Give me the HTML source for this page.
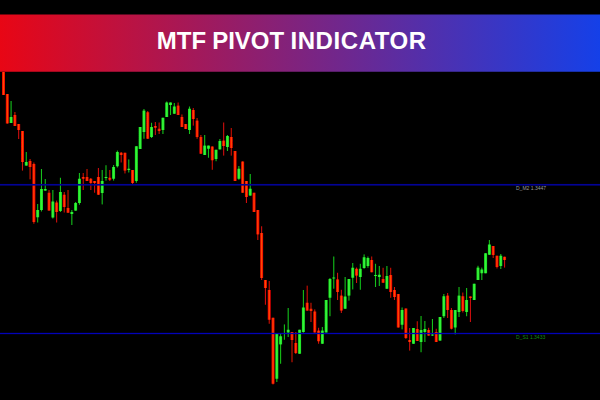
<!DOCTYPE html>
<html lang="en">
<head>
<meta charset="utf-8">
<title>MTF Pivot Indicator</title>
<style>
html,body{margin:0;padding:0;background:#000;}
body{width:600px;height:400px;position:relative;overflow:hidden;font-family:"Liberation Sans",sans-serif;}
.hdr{position:absolute;left:0;top:14.5px;width:600px;height:57.25px;background:linear-gradient(90deg,#e80615 0%,#1540e8 100%);}
.ttl{position:absolute;left:0;top:27.4px;width:600px;height:30px;color:#fff;font-weight:700;font-size:24px;white-space:nowrap;}
.ttl span{position:absolute;top:0;}
.lbl{position:absolute;left:516px;font-size:5px;line-height:6px;white-space:nowrap;letter-spacing:0;}
</style>
</head>
<body>
<svg width="600" height="400" viewBox="0 0 600 400" style="position:absolute;left:0;top:0">
<defs>
<linearGradient id="gr" x1="0" y1="0" x2="1" y2="0"><stop offset="0" stop-color="#e20000"/><stop offset="0.28" stop-color="#fb1c00"/><stop offset="0.45" stop-color="#ff4c02"/><stop offset="0.55" stop-color="#ff4c02"/><stop offset="0.72" stop-color="#fb1c00"/><stop offset="1" stop-color="#e20000"/></linearGradient>
<linearGradient id="gg" x1="0" y1="0" x2="1" y2="0"><stop offset="0" stop-color="#10d816"/><stop offset="0.38" stop-color="#34f23a"/><stop offset="0.62" stop-color="#34f23a"/><stop offset="1" stop-color="#10d816"/></linearGradient>
<linearGradient id="hg" x1="0" y1="0" x2="1" y2="0"><stop offset="0" stop-color="#e80615"/><stop offset="1" stop-color="#1540e8"/></linearGradient>
<filter id="b" x="-5%" y="-5%" width="110%" height="110%"><feGaussianBlur stdDeviation="0.4"/></filter></defs>
<g filter="url(#b)">
<g>
<rect x="2.95" y="72.00" width="1.1" height="23.00" fill="#d01208"/>
<rect x="6.75" y="94.00" width="1.1" height="29.50" fill="#d01208"/>
<rect x="10.54" y="101.00" width="1.1" height="22.00" fill="#14c01a"/>
<rect x="14.34" y="112.00" width="1.1" height="14.00" fill="#d01208"/>
<rect x="18.13" y="124.00" width="1.1" height="15.00" fill="#d01208"/>
<rect x="21.93" y="131.00" width="1.1" height="39.60" fill="#d01208"/>
<rect x="25.73" y="152.00" width="1.1" height="13.60" fill="#14c01a"/>
<rect x="29.52" y="159.00" width="1.1" height="20.40" fill="#d01208"/>
<rect x="33.32" y="162.50" width="1.1" height="61.25" fill="#d01208"/>
<rect x="37.11" y="204.00" width="1.1" height="18.50" fill="#14c01a"/>
<rect x="40.91" y="169.00" width="1.1" height="42.50" fill="#14c01a"/>
<rect x="44.71" y="179.00" width="1.1" height="11.60" fill="#14c01a"/>
<rect x="48.50" y="190.00" width="1.1" height="20.60" fill="#d01208"/>
<rect x="52.30" y="190.00" width="1.1" height="28.50" fill="#14c01a"/>
<rect x="56.09" y="200.60" width="1.1" height="21.90" fill="#d01208"/>
<rect x="59.89" y="177.75" width="1.1" height="34.25" fill="#14c01a"/>
<rect x="63.69" y="192.00" width="1.1" height="20.50" fill="#d01208"/>
<rect x="67.48" y="190.00" width="1.1" height="22.75" fill="#d01208"/>
<rect x="71.28" y="210.00" width="1.1" height="15.00" fill="#14c01a"/>
<rect x="75.07" y="202.00" width="1.1" height="8.60" fill="#14c01a"/>
<rect x="78.87" y="173.00" width="1.1" height="31.75" fill="#14c01a"/>
<rect x="82.67" y="173.00" width="1.1" height="17.00" fill="#d01208"/>
<rect x="86.46" y="169.00" width="1.1" height="12.00" fill="#d01208"/>
<rect x="90.26" y="178.00" width="1.1" height="12.00" fill="#d01208"/>
<rect x="94.05" y="181.00" width="1.1" height="11.75" fill="#d01208"/>
<rect x="97.85" y="168.00" width="1.1" height="26.75" fill="#d01208"/>
<rect x="101.65" y="170.00" width="1.1" height="34.40" fill="#14c01a"/>
<rect x="105.44" y="165.25" width="1.1" height="15.35" fill="#14c01a"/>
<rect x="109.24" y="170.00" width="1.1" height="11.00" fill="#d01208"/>
<rect x="113.03" y="165.00" width="1.1" height="15.60" fill="#14c01a"/>
<rect x="116.83" y="150.60" width="1.1" height="16.90" fill="#14c01a"/>
<rect x="120.63" y="152.00" width="1.1" height="10.50" fill="#d01208"/>
<rect x="124.42" y="152.75" width="1.1" height="20.75" fill="#d01208"/>
<rect x="128.22" y="159.40" width="1.1" height="13.10" fill="#14c01a"/>
<rect x="132.01" y="170.00" width="1.1" height="14.40" fill="#d01208"/>
<rect x="135.81" y="146.25" width="1.1" height="36.50" fill="#14c01a"/>
<rect x="139.61" y="127.00" width="1.1" height="22.00" fill="#14c01a"/>
<rect x="143.40" y="109.00" width="1.1" height="29.75" fill="#14c01a"/>
<rect x="147.20" y="111.00" width="1.1" height="27.75" fill="#d01208"/>
<rect x="150.99" y="122.75" width="1.1" height="15.25" fill="#14c01a"/>
<rect x="154.79" y="122.00" width="1.1" height="13.00" fill="#d01208"/>
<rect x="158.59" y="122.50" width="1.1" height="11.50" fill="#d01208"/>
<rect x="162.38" y="117.75" width="1.1" height="16.25" fill="#14c01a"/>
<rect x="166.18" y="101.50" width="1.1" height="15.50" fill="#14c01a"/>
<rect x="169.97" y="102.50" width="1.1" height="12.50" fill="#14c01a"/>
<rect x="173.77" y="103.00" width="1.1" height="10.75" fill="#14c01a"/>
<rect x="177.57" y="102.50" width="1.1" height="12.50" fill="#d01208"/>
<rect x="181.36" y="114.40" width="1.1" height="12.60" fill="#d01208"/>
<rect x="185.16" y="124.00" width="1.1" height="5.00" fill="#d01208"/>
<rect x="188.95" y="106.50" width="1.1" height="27.50" fill="#14c01a"/>
<rect x="192.75" y="108.00" width="1.1" height="17.60" fill="#d01208"/>
<rect x="196.55" y="118.00" width="1.1" height="20.75" fill="#d01208"/>
<rect x="200.34" y="135.00" width="1.1" height="18.75" fill="#d01208"/>
<rect x="204.14" y="135.00" width="1.1" height="20.00" fill="#14c01a"/>
<rect x="207.93" y="145.60" width="1.1" height="12.15" fill="#14c01a"/>
<rect x="211.73" y="146.50" width="1.1" height="23.25" fill="#d01208"/>
<rect x="215.53" y="149.75" width="1.1" height="11.50" fill="#14c01a"/>
<rect x="219.32" y="139.00" width="1.1" height="10.40" fill="#14c01a"/>
<rect x="223.12" y="122.50" width="1.1" height="33.10" fill="#d01208"/>
<rect x="226.91" y="135.00" width="1.1" height="16.00" fill="#14c01a"/>
<rect x="230.71" y="128.00" width="1.1" height="27.60" fill="#d01208"/>
<rect x="234.51" y="151.00" width="1.1" height="30.00" fill="#d01208"/>
<rect x="238.30" y="166.00" width="1.1" height="13.75" fill="#14c01a"/>
<rect x="242.10" y="161.50" width="1.1" height="31.25" fill="#d01208"/>
<rect x="245.89" y="181.00" width="1.1" height="22.00" fill="#d01208"/>
<rect x="249.69" y="174.00" width="1.1" height="21.60" fill="#14c01a"/>
<rect x="253.49" y="192.75" width="1.1" height="19.25" fill="#d01208"/>
<rect x="257.28" y="210.00" width="1.1" height="30.00" fill="#d01208"/>
<rect x="261.08" y="226.25" width="1.1" height="53.75" fill="#d01208"/>
<rect x="264.87" y="280.00" width="1.1" height="24.75" fill="#d01208"/>
<rect x="268.67" y="281.00" width="1.1" height="42.75" fill="#d01208"/>
<rect x="272.47" y="317.75" width="1.1" height="66.75" fill="#d01208"/>
<rect x="276.26" y="333.75" width="1.1" height="48.25" fill="#14c01a"/>
<rect x="280.06" y="333.75" width="1.1" height="30.00" fill="#14c01a"/>
<rect x="283.85" y="324.40" width="1.1" height="15.35" fill="#14c01a"/>
<rect x="287.65" y="308.00" width="1.1" height="29.00" fill="#14c01a"/>
<rect x="291.45" y="332.00" width="1.1" height="30.25" fill="#d01208"/>
<rect x="295.24" y="332.00" width="1.1" height="22.00" fill="#d01208"/>
<rect x="299.04" y="329.75" width="1.1" height="24.00" fill="#14c01a"/>
<rect x="302.83" y="290.00" width="1.1" height="42.75" fill="#14c01a"/>
<rect x="306.63" y="285.60" width="1.1" height="25.00" fill="#d01208"/>
<rect x="310.43" y="302.75" width="1.1" height="19.25" fill="#d01208"/>
<rect x="314.22" y="309.40" width="1.1" height="23.10" fill="#d01208"/>
<rect x="318.02" y="327.75" width="1.1" height="16.00" fill="#d01208"/>
<rect x="321.81" y="327.00" width="1.1" height="16.75" fill="#14c01a"/>
<rect x="325.61" y="300.00" width="1.1" height="32.50" fill="#14c01a"/>
<rect x="329.41" y="278.00" width="1.1" height="38.25" fill="#14c01a"/>
<rect x="333.20" y="256.50" width="1.1" height="32.25" fill="#14c01a"/>
<rect x="337.00" y="272.75" width="1.1" height="27.25" fill="#d01208"/>
<rect x="340.79" y="289.75" width="1.1" height="23.25" fill="#d01208"/>
<rect x="344.59" y="277.00" width="1.1" height="31.75" fill="#14c01a"/>
<rect x="348.39" y="279.00" width="1.1" height="21.60" fill="#14c01a"/>
<rect x="352.18" y="263.00" width="1.1" height="26.40" fill="#14c01a"/>
<rect x="355.98" y="267.50" width="1.1" height="15.50" fill="#d01208"/>
<rect x="359.77" y="263.75" width="1.1" height="26.00" fill="#14c01a"/>
<rect x="363.57" y="254.40" width="1.1" height="14.35" fill="#14c01a"/>
<rect x="367.37" y="256.50" width="1.1" height="11.25" fill="#14c01a"/>
<rect x="371.16" y="256.50" width="1.1" height="15.75" fill="#d01208"/>
<rect x="374.96" y="263.75" width="1.1" height="23.25" fill="#14c01a"/>
<rect x="378.75" y="266.00" width="1.1" height="20.00" fill="#14c01a"/>
<rect x="382.55" y="267.75" width="1.1" height="15.00" fill="#d01208"/>
<rect x="386.35" y="266.00" width="1.1" height="22.75" fill="#14c01a"/>
<rect x="390.14" y="267.75" width="1.1" height="30.00" fill="#d01208"/>
<rect x="393.94" y="287.00" width="1.1" height="13.00" fill="#d01208"/>
<rect x="397.73" y="294.00" width="1.1" height="33.50" fill="#d01208"/>
<rect x="401.53" y="307.50" width="1.1" height="21.90" fill="#14c01a"/>
<rect x="405.33" y="308.50" width="1.1" height="30.50" fill="#d01208"/>
<rect x="409.12" y="328.00" width="1.1" height="22.60" fill="#d01208"/>
<rect x="412.92" y="328.00" width="1.1" height="15.75" fill="#14c01a"/>
<rect x="416.71" y="321.25" width="1.1" height="19.75" fill="#d01208"/>
<rect x="420.51" y="316.00" width="1.1" height="36.25" fill="#14c01a"/>
<rect x="424.31" y="321.00" width="1.1" height="21.00" fill="#14c01a"/>
<rect x="428.10" y="327.75" width="1.1" height="7.85" fill="#d01208"/>
<rect x="431.90" y="319.00" width="1.1" height="17.00" fill="#14c01a"/>
<rect x="435.69" y="328.75" width="1.1" height="13.25" fill="#d01208"/>
<rect x="439.49" y="317.00" width="1.1" height="23.60" fill="#14c01a"/>
<rect x="443.29" y="294.00" width="1.1" height="24.00" fill="#14c01a"/>
<rect x="447.08" y="293.00" width="1.1" height="25.00" fill="#d01208"/>
<rect x="450.88" y="308.00" width="1.1" height="21.40" fill="#d01208"/>
<rect x="454.67" y="310.00" width="1.1" height="24.40" fill="#14c01a"/>
<rect x="458.47" y="287.00" width="1.1" height="30.00" fill="#14c01a"/>
<rect x="462.27" y="292.50" width="1.1" height="20.00" fill="#d01208"/>
<rect x="466.06" y="288.00" width="1.1" height="28.25" fill="#14c01a"/>
<rect x="469.86" y="296.50" width="1.1" height="25.50" fill="#d01208"/>
<rect x="473.65" y="283.75" width="1.1" height="16.25" fill="#14c01a"/>
<rect x="477.45" y="265.75" width="1.1" height="14.25" fill="#14c01a"/>
<rect x="481.25" y="267.60" width="1.1" height="12.40" fill="#14c01a"/>
<rect x="485.04" y="253.25" width="1.1" height="20.00" fill="#14c01a"/>
<rect x="488.84" y="240.00" width="1.1" height="14.75" fill="#14c01a"/>
<rect x="492.63" y="246.00" width="1.1" height="12.00" fill="#d01208"/>
<rect x="496.43" y="255.75" width="1.1" height="12.75" fill="#d01208"/>
<rect x="500.23" y="254.00" width="1.1" height="15.00" fill="#14c01a"/>
<rect x="504.02" y="256.75" width="1.1" height="10.85" fill="#d01208"/>
</g>
<g>
<rect x="2.00" y="72.00" width="3.0" height="23.00" fill="url(#gr)"/>
<rect x="5.80" y="94.00" width="3.0" height="29.50" fill="url(#gr)"/>
<rect x="9.59" y="117.00" width="3.0" height="6.00" fill="url(#gg)"/>
<rect x="13.39" y="115.00" width="3.0" height="11.00" fill="url(#gr)"/>
<rect x="17.18" y="124.00" width="3.0" height="6.00" fill="url(#gr)"/>
<rect x="20.98" y="131.00" width="3.0" height="31.00" fill="url(#gr)"/>
<rect x="24.78" y="162.00" width="3.0" height="3.60" fill="url(#gg)"/>
<rect x="28.57" y="161.00" width="3.0" height="6.00" fill="url(#gr)"/>
<rect x="32.37" y="164.00" width="3.0" height="58.00" fill="url(#gr)"/>
<rect x="36.16" y="210.00" width="3.0" height="7.25" fill="url(#gg)"/>
<rect x="39.96" y="189.00" width="3.0" height="21.00" fill="url(#gg)"/>
<rect x="43.76" y="189.00" width="3.0" height="1.60" fill="url(#gg)"/>
<rect x="47.55" y="192.75" width="3.0" height="17.85" fill="url(#gr)"/>
<rect x="51.35" y="201.50" width="3.0" height="16.00" fill="url(#gg)"/>
<rect x="55.14" y="202.50" width="3.0" height="9.50" fill="url(#gr)"/>
<rect x="58.94" y="192.00" width="3.0" height="19.00" fill="url(#gg)"/>
<rect x="62.74" y="194.75" width="3.0" height="12.25" fill="url(#gr)"/>
<rect x="66.53" y="208.00" width="3.0" height="4.75" fill="url(#gr)"/>
<rect x="70.33" y="212.00" width="3.0" height="2.00" fill="url(#gg)"/>
<rect x="74.12" y="203.00" width="3.0" height="7.60" fill="url(#gg)"/>
<rect x="77.92" y="178.75" width="3.0" height="24.25" fill="url(#gg)"/>
<rect x="81.72" y="177.00" width="3.0" height="1.75" fill="url(#gr)"/>
<rect x="85.51" y="177.00" width="3.0" height="4.00" fill="url(#gr)"/>
<rect x="89.31" y="178.75" width="3.0" height="4.25" fill="url(#gr)"/>
<rect x="93.10" y="181.00" width="3.0" height="2.00" fill="url(#gr)"/>
<rect x="96.90" y="177.00" width="3.0" height="17.75" fill="url(#gr)"/>
<rect x="100.70" y="181.00" width="3.0" height="12.00" fill="url(#gg)"/>
<rect x="104.49" y="177.00" width="3.0" height="1.00" fill="url(#gg)"/>
<rect x="108.29" y="177.75" width="3.0" height="2.00" fill="url(#gr)"/>
<rect x="112.08" y="167.00" width="3.0" height="11.75" fill="url(#gg)"/>
<rect x="115.88" y="152.00" width="3.0" height="14.25" fill="url(#gg)"/>
<rect x="119.68" y="152.75" width="3.0" height="2.25" fill="url(#gr)"/>
<rect x="123.47" y="152.75" width="3.0" height="17.85" fill="url(#gr)"/>
<rect x="127.27" y="168.75" width="3.0" height="1.25" fill="url(#gg)"/>
<rect x="131.06" y="170.00" width="3.0" height="13.00" fill="url(#gr)"/>
<rect x="134.86" y="146.25" width="3.0" height="34.75" fill="url(#gg)"/>
<rect x="138.66" y="127.00" width="3.0" height="22.00" fill="url(#gg)"/>
<rect x="142.45" y="110.60" width="3.0" height="21.40" fill="url(#gg)"/>
<rect x="146.25" y="112.25" width="3.0" height="26.50" fill="url(#gr)"/>
<rect x="150.04" y="127.00" width="3.0" height="10.00" fill="url(#gg)"/>
<rect x="153.84" y="126.00" width="3.0" height="1.75" fill="url(#gr)"/>
<rect x="157.64" y="128.75" width="3.0" height="2.25" fill="url(#gr)"/>
<rect x="161.43" y="117.75" width="3.0" height="12.25" fill="url(#gg)"/>
<rect x="165.23" y="102.50" width="3.0" height="14.50" fill="url(#gg)"/>
<rect x="169.02" y="102.50" width="3.0" height="2.50" fill="url(#gg)"/>
<rect x="172.82" y="106.50" width="3.0" height="7.25" fill="url(#gg)"/>
<rect x="176.62" y="105.60" width="3.0" height="9.40" fill="url(#gr)"/>
<rect x="180.41" y="117.00" width="3.0" height="10.00" fill="url(#gr)"/>
<rect x="184.21" y="124.00" width="3.0" height="5.00" fill="url(#gr)"/>
<rect x="188.00" y="108.75" width="3.0" height="21.25" fill="url(#gg)"/>
<rect x="191.80" y="110.00" width="3.0" height="9.00" fill="url(#gr)"/>
<rect x="195.60" y="120.60" width="3.0" height="16.40" fill="url(#gr)"/>
<rect x="199.39" y="137.00" width="3.0" height="16.75" fill="url(#gr)"/>
<rect x="203.19" y="145.60" width="3.0" height="9.40" fill="url(#gg)"/>
<rect x="206.98" y="145.60" width="3.0" height="3.15" fill="url(#gg)"/>
<rect x="210.78" y="146.50" width="3.0" height="13.75" fill="url(#gr)"/>
<rect x="214.58" y="149.75" width="3.0" height="9.25" fill="url(#gg)"/>
<rect x="218.37" y="141.00" width="3.0" height="8.40" fill="url(#gg)"/>
<rect x="222.17" y="140.60" width="3.0" height="5.40" fill="url(#gr)"/>
<rect x="225.96" y="136.00" width="3.0" height="11.00" fill="url(#gg)"/>
<rect x="229.76" y="137.00" width="3.0" height="11.00" fill="url(#gr)"/>
<rect x="233.56" y="151.00" width="3.0" height="30.00" fill="url(#gr)"/>
<rect x="237.35" y="168.75" width="3.0" height="10.00" fill="url(#gg)"/>
<rect x="241.15" y="161.50" width="3.0" height="31.25" fill="url(#gr)"/>
<rect x="244.94" y="181.00" width="3.0" height="16.00" fill="url(#gr)"/>
<rect x="248.74" y="188.75" width="3.0" height="6.85" fill="url(#gg)"/>
<rect x="252.54" y="192.75" width="3.0" height="19.25" fill="url(#gr)"/>
<rect x="256.33" y="210.00" width="3.0" height="24.40" fill="url(#gr)"/>
<rect x="260.13" y="233.00" width="3.0" height="45.00" fill="url(#gr)"/>
<rect x="263.92" y="280.00" width="3.0" height="8.00" fill="url(#gr)"/>
<rect x="267.72" y="290.00" width="3.0" height="29.75" fill="url(#gr)"/>
<rect x="271.52" y="317.75" width="3.0" height="66.00" fill="url(#gr)"/>
<rect x="275.31" y="333.75" width="3.0" height="45.00" fill="url(#gg)"/>
<rect x="279.11" y="336.25" width="3.0" height="8.15" fill="url(#gg)"/>
<rect x="286.70" y="329.75" width="3.0" height="2.75" fill="url(#gg)"/>
<rect x="290.50" y="332.00" width="3.0" height="8.00" fill="url(#gr)"/>
<rect x="294.29" y="343.00" width="3.0" height="10.00" fill="url(#gr)"/>
<rect x="298.09" y="329.75" width="3.0" height="24.00" fill="url(#gg)"/>
<rect x="301.88" y="307.50" width="3.0" height="24.50" fill="url(#gg)"/>
<rect x="305.68" y="302.75" width="3.0" height="7.85" fill="url(#gr)"/>
<rect x="309.48" y="308.75" width="3.0" height="2.25" fill="url(#gr)"/>
<rect x="313.27" y="311.50" width="3.0" height="21.00" fill="url(#gr)"/>
<rect x="317.07" y="330.60" width="3.0" height="10.65" fill="url(#gr)"/>
<rect x="320.86" y="330.60" width="3.0" height="13.15" fill="url(#gg)"/>
<rect x="324.66" y="300.00" width="3.0" height="32.50" fill="url(#gg)"/>
<rect x="328.46" y="279.00" width="3.0" height="18.75" fill="url(#gg)"/>
<rect x="332.25" y="277.50" width="3.0" height="1.00" fill="url(#gg)"/>
<rect x="336.05" y="279.40" width="3.0" height="12.60" fill="url(#gr)"/>
<rect x="339.84" y="295.60" width="3.0" height="15.00" fill="url(#gr)"/>
<rect x="343.64" y="296.50" width="3.0" height="12.25" fill="url(#gg)"/>
<rect x="347.44" y="279.00" width="3.0" height="16.60" fill="url(#gg)"/>
<rect x="351.23" y="267.75" width="3.0" height="10.00" fill="url(#gg)"/>
<rect x="355.03" y="268.75" width="3.0" height="6.85" fill="url(#gr)"/>
<rect x="358.82" y="268.75" width="3.0" height="8.25" fill="url(#gg)"/>
<rect x="362.62" y="257.25" width="3.0" height="10.75" fill="url(#gg)"/>
<rect x="366.42" y="258.00" width="3.0" height="8.00" fill="url(#gg)"/>
<rect x="370.21" y="260.00" width="3.0" height="12.25" fill="url(#gr)"/>
<rect x="374.01" y="275.00" width="3.0" height="1.00" fill="url(#gg)"/>
<rect x="377.80" y="274.75" width="3.0" height="2.25" fill="url(#gg)"/>
<rect x="381.60" y="279.00" width="3.0" height="3.75" fill="url(#gr)"/>
<rect x="385.40" y="276.00" width="3.0" height="12.75" fill="url(#gg)"/>
<rect x="389.19" y="275.00" width="3.0" height="17.00" fill="url(#gr)"/>
<rect x="392.99" y="290.00" width="3.0" height="7.00" fill="url(#gr)"/>
<rect x="396.78" y="294.00" width="3.0" height="33.50" fill="url(#gr)"/>
<rect x="400.58" y="310.00" width="3.0" height="14.75" fill="url(#gg)"/>
<rect x="404.38" y="308.50" width="3.0" height="29.50" fill="url(#gr)"/>
<rect x="408.17" y="340.00" width="3.0" height="2.00" fill="url(#gr)"/>
<rect x="411.97" y="328.00" width="3.0" height="15.75" fill="url(#gg)"/>
<rect x="415.76" y="329.00" width="3.0" height="12.00" fill="url(#gr)"/>
<rect x="419.56" y="330.00" width="3.0" height="12.00" fill="url(#gg)"/>
<rect x="423.36" y="329.00" width="3.0" height="3.00" fill="url(#gg)"/>
<rect x="427.15" y="330.00" width="3.0" height="5.60" fill="url(#gr)"/>
<rect x="430.95" y="334.50" width="3.0" height="1.00" fill="url(#gg)"/>
<rect x="434.74" y="332.00" width="3.0" height="10.00" fill="url(#gr)"/>
<rect x="438.54" y="317.00" width="3.0" height="23.60" fill="url(#gg)"/>
<rect x="442.34" y="296.25" width="3.0" height="20.00" fill="url(#gg)"/>
<rect x="446.13" y="295.60" width="3.0" height="14.40" fill="url(#gr)"/>
<rect x="449.93" y="310.00" width="3.0" height="18.75" fill="url(#gr)"/>
<rect x="453.72" y="310.00" width="3.0" height="17.50" fill="url(#gg)"/>
<rect x="457.52" y="295.60" width="3.0" height="16.40" fill="url(#gg)"/>
<rect x="461.32" y="296.25" width="3.0" height="14.75" fill="url(#gr)"/>
<rect x="465.11" y="300.00" width="3.0" height="12.00" fill="url(#gg)"/>
<rect x="468.91" y="296.50" width="3.0" height="1.50" fill="url(#gr)"/>
<rect x="472.70" y="283.75" width="3.0" height="16.25" fill="url(#gg)"/>
<rect x="476.50" y="267.60" width="3.0" height="12.40" fill="url(#gg)"/>
<rect x="480.30" y="269.50" width="3.0" height="3.75" fill="url(#gg)"/>
<rect x="484.09" y="253.25" width="3.0" height="20.00" fill="url(#gg)"/>
<rect x="487.89" y="244.50" width="3.0" height="10.25" fill="url(#gg)"/>
<rect x="491.68" y="246.00" width="3.0" height="9.00" fill="url(#gr)"/>
<rect x="495.48" y="255.75" width="3.0" height="11.25" fill="url(#gr)"/>
<rect x="499.28" y="255.75" width="3.0" height="10.25" fill="url(#gg)"/>
<rect x="503.07" y="256.75" width="3.0" height="3.25" fill="url(#gr)"/>
</g>
</g>
<rect x="0" y="183.95" width="600" height="1.65" fill="#020296"/>
<rect x="0" y="332.85" width="600" height="1.3" fill="#0202b8"/>
<rect x="0" y="14.5" width="600" height="57.25" fill="url(#hg)"/>
</svg>
<div class="ttl"><span style="left:156.8px">MTF </span><span style="left:212.2px">PIVOT </span><span style="left:290.5px;letter-spacing:0.56px">INDICATOR</span></div>
<div class="lbl" style="top:185.2px;color:#9a9a9a">D_M2 1.3447</div>
<div class="lbl" style="top:334.2px;color:#158a15">D_S1 1.3433</div>
</body>
</html>
